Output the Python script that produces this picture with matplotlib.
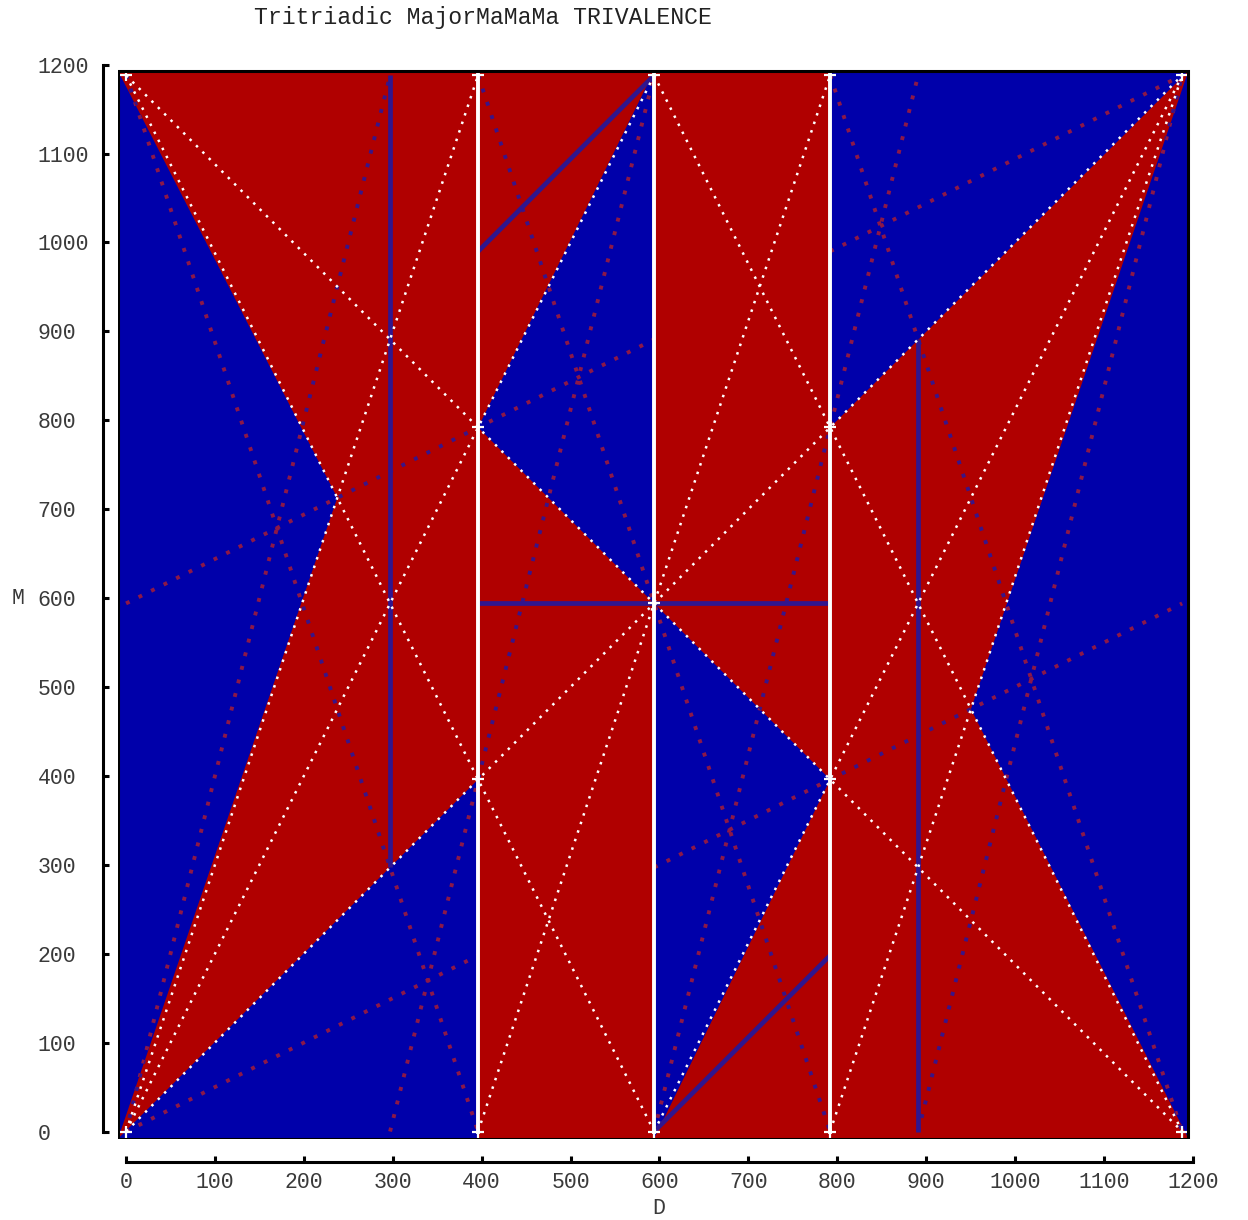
import matplotlib.pyplot as plt
from matplotlib.patches import Rectangle, PathPatch
from matplotlib.path import Path

# grid step in cents: the square runs 0..12 steps = 0..1188
STEP = 99
N = 12

# blue areas of the region plot, vertices in steps (D, M)
blue_regions = [
    [(0, 0), (2.4, 7.2), (0, 12)],
    [(0, 0), (4, 4), (4, 0)],
    [(4, 8), (6, 12), (6, 6)],
    [(6, 6), (8, 4), (6, 0)],
    [(8, 8), (8, 12), (12, 12)],
    [(12, 0), (9.6, 4.8), (12, 12)],
]

# white dotted boundary lines (start, end) in steps
white_dotted = [
    ((0, 0), (12, 12)), ((0, 12), (12, 0)),
    ((0, 0), (4, 12)), ((4, 0), (8, 12)), ((8, 0), (12, 12)),
    ((0, 0), (6, 12)), ((6, 0), (12, 12)),
    ((0, 12), (6, 0)), ((6, 12), (12, 0)),
]

# white solid verticals
white_solid = [4, 6, 8]

# small white crosses at the grid nodes
nodes = [(0, 0), (0, 12), (12, 0), (12, 12), (4, 12), (6, 12), (8, 12),
         (4, 0), (6, 0), (8, 0), (6, 6), (4, 8), (4, 4), (8, 8), (8, 4)]

# dark blue solid segments
blue_solid = [
    ((3, 3), (3, 12)), ((9, 0), (9, 9)), ((4, 6), (8, 6)),
    ((4, 10), (6, 12)), ((6, 0), (8, 2)),
]

# faint dotted lines
faint_dotted = [
    ((0, 0), (4, 2)), ((6, 3), (12, 6)),
    ((0, 6), (6, 9)), ((8, 10), (12, 12)),
    ((0, 0), (3, 12)), ((3, 0), (6, 12)), ((6, 0), (9, 12)), ((9, 0), (12, 12)),
    ((0, 12), (4, 0)), ((4, 12), (8, 0)), ((8, 12), (12, 0)),
]

ticks = list(range(0, 1201, 100))

RED = '#b00000'
BLUE = '#0000aa'
LINE_BLUE = '#30168e'
DOT_ON_RED = '#3a1486'
DOT_ON_BLUE = '#8c1848'
FONT = 'Liberation Mono'

# frame limits (a little padding around the 0..1188 square)
X0, X1 = -9, 1195
Y0, Y1 = -8, 1193


def edge(v, lo, hi):
    if v == 0:
        return lo
    if v == N:
        return hi
    return v * STEP


fig = plt.figure(figsize=(12.48, 12.20), dpi=100)
ax = fig.add_axes([0.0946, 0.0667, 0.8619, 0.881])
ax.set_xlim(X0, 1201)
ax.set_ylim(Y0, 1201)
ax.patch.set_visible(False)

ax.add_patch(Rectangle((X0, Y0), X1 - X0, Y1 - Y0, fc=RED, ec='none', zorder=1))

# faint lines on red parts
for (a, b) in faint_dotted:
    ax.plot([a[0] * STEP, b[0] * STEP], [a[1] * STEP, b[1] * STEP], color=DOT_ON_RED,
            lw=2.8, ls=(0, (1, 2.6)), zorder=2)

polys = []
for reg in blue_regions:
    pts = [(edge(d, X0, X1), edge(m, Y0, Y1)) for d, m in reg]
    polys.append(Path(pts + [pts[0]], closed=True))
blue_patch = PathPatch(Path.make_compound_path(*polys), fc=BLUE, ec='none', zorder=3)
ax.add_patch(blue_patch)

# same faint lines, shown red where they cross blue
for (a, b) in faint_dotted:
    ln, = ax.plot([a[0] * STEP, b[0] * STEP], [a[1] * STEP, b[1] * STEP], color=DOT_ON_BLUE,
                  lw=2.8, ls=(0, (1, 2.6)), zorder=4)
    ln.set_clip_path(blue_patch)

for (a, b) in blue_solid:
    ax.plot([a[0] * STEP, b[0] * STEP], [a[1] * STEP, b[1] * STEP], color=LINE_BLUE,
            lw=3.4, solid_capstyle='butt', zorder=5)

for (a, b) in white_dotted:
    ax.plot([a[0] * STEP, b[0] * STEP], [a[1] * STEP, b[1] * STEP], color='white',
            lw=1.8, ls=(0, (1, 2.6)), zorder=6)

for d in white_solid:
    ax.plot([d * STEP, d * STEP], [0, N * STEP], color='white', lw=2.8, zorder=7)

ax.plot([p[0] * STEP for p in nodes], [p[1] * STEP for p in nodes], ls='none',
        marker='+', ms=8, mew=1.6, color='white', zorder=7)

ax.add_patch(Rectangle((X0, Y0), X1 - X0, Y1 - Y0, fill=False, ec='black', lw=2.2, zorder=8))

# detached axis lines
for side in ['top', 'right']:
    ax.spines[side].set_visible(False)
ax.spines['left'].set_position(('outward', 10.8))
ax.spines['bottom'].set_position(('outward', 16.8))
ax.spines['left'].set_bounds(0, 1200)
ax.spines['bottom'].set_bounds(0, 1200)
for side in ['left', 'bottom']:
    ax.spines[side].set_linewidth(2.2)

ax.set_xticks(ticks)
ax.set_yticks(ticks)
ax.tick_params(direction='in', length=4, width=2.2, labelsize=15.5, labelcolor='#3a3a3a')
ax.tick_params(axis='x', pad=7)
ax.tick_params(axis='y', pad=47)
for lab in ax.get_xticklabels() + ax.get_yticklabels():
    lab.set_fontfamily(FONT)
for lab in ax.get_yticklabels():
    lab.set_horizontalalignment('left')

fig.text(659 / 1248, 1 - 1209 / 1220, 'D', ha='center', va='center',
         fontsize=15.5, family=FONT, color='#3a3a3a')
fig.text(18 / 1248, 1 - 598 / 1220, 'M', ha='center', va='center',
         fontsize=15.5, family=FONT, color='#3a3a3a')

fig.text(0.387, 0.986, 'Tritriadic MajorMaMaMa TRIVALENCE', ha='center', va='center',
         fontsize=16.7, family=FONT, color='#222222')

fig.savefig('out.png', dpi=100)
